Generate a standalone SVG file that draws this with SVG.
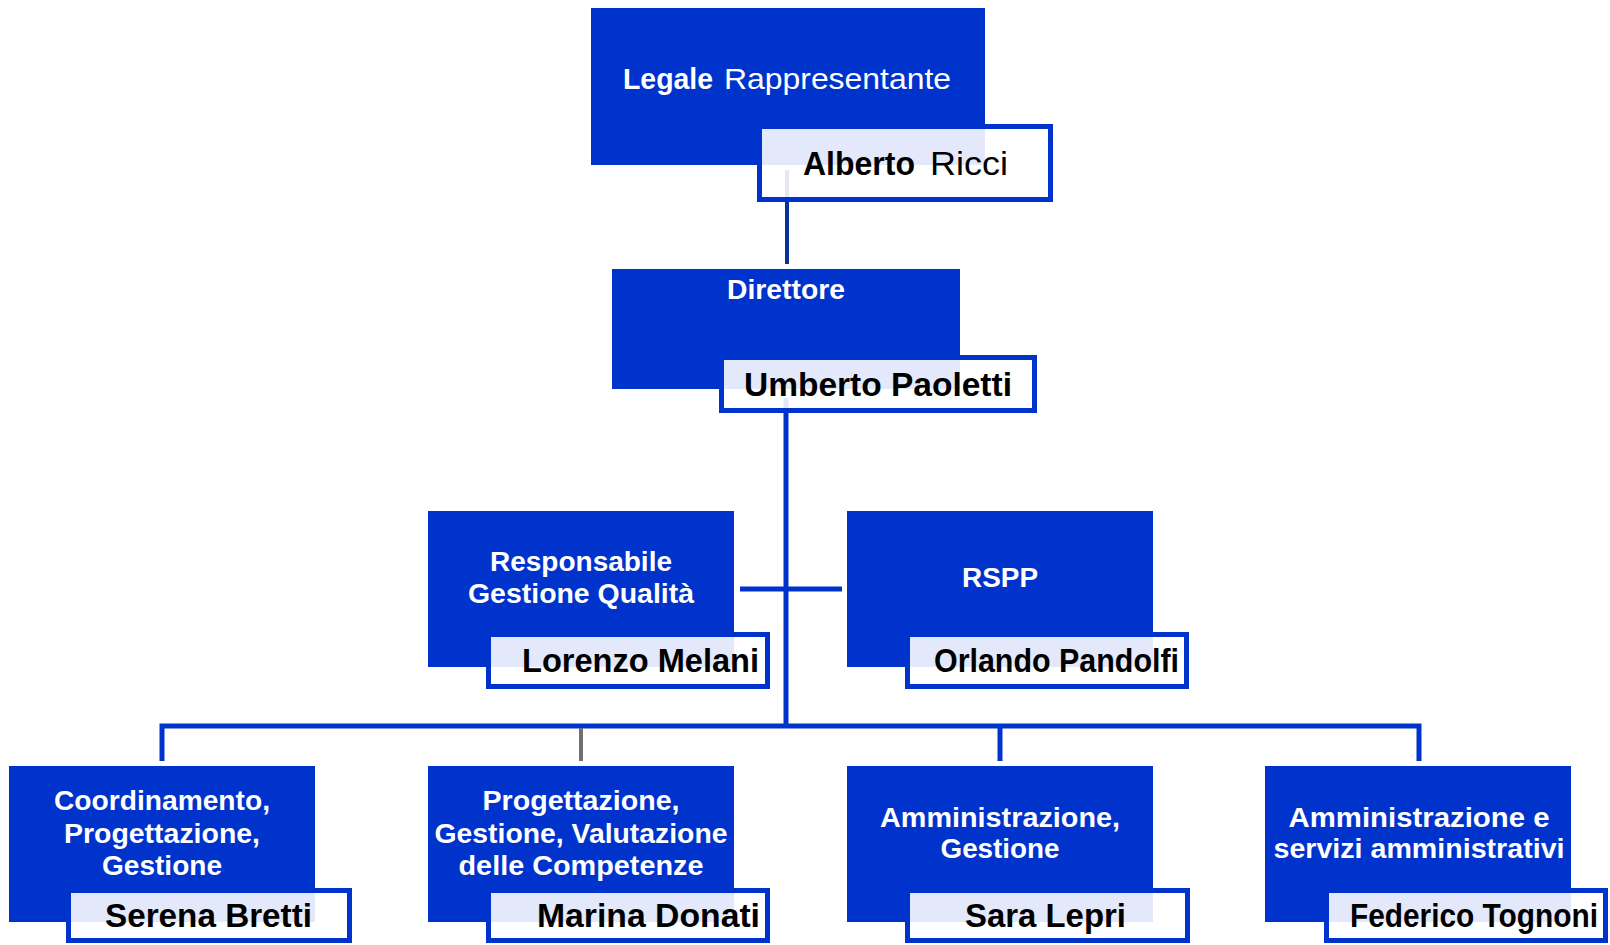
<svg xmlns="http://www.w3.org/2000/svg" width="1610" height="945" viewBox="0 0 1610 945">
<style>
.box{fill:#0033cc}
.nm{fill:#ffffff;fill-opacity:0.89;stroke:#0033cc;stroke-width:5}
.wt{font-family:"Liberation Sans",Arial,sans-serif;font-weight:bold;font-size:27px;fill:#ffffff;text-anchor:middle}
.bt{font-family:"Liberation Sans",Arial,sans-serif;font-weight:bold;font-size:34px;fill:#000000}
.rg{font-weight:normal}
.ln{fill:none;stroke:#0033cc;stroke-width:5}
</style>
<rect width="1610" height="945" fill="#ffffff"/>
<g id="connectors">
  <line x1="787" y1="170" x2="787" y2="264" stroke="#063494" stroke-width="4"/>
  <line class="ln" x1="786" y1="398" x2="786" y2="728"/>
  <line class="ln" x1="740" y1="589" x2="842" y2="589"/>
  <path class="ln" d="M162,761 V726 H1419 V761"/>
  <line class="ln" x1="1000" y1="726" x2="1000" y2="761"/>
  <line x1="581" y1="728" x2="581" y2="761" stroke="#707070" stroke-width="4"/>
</g>
<g id="legale">
  <rect class="box" x="591" y="8" width="394" height="157"/>
  <text class="wt" x="623" y="89" style="text-anchor:start;font-size:30px" textLength="90" lengthAdjust="spacingAndGlyphs">Legale</text>
  <text class="wt rg" x="724" y="89" style="text-anchor:start;font-size:30px" textLength="227" lengthAdjust="spacingAndGlyphs">Rappresentante</text>
  <rect class="nm" x="759.5" y="126.5" width="291" height="73"/>
  <text class="bt" x="803" y="175" textLength="112" lengthAdjust="spacingAndGlyphs">Alberto</text>
  <text class="bt rg" x="930" y="175" textLength="78" lengthAdjust="spacingAndGlyphs">Ricci</text>
</g>
<g id="direttore">
  <rect class="box" x="612" y="269" width="348" height="120"/>
  <text class="wt" x="786" y="299" textLength="118" lengthAdjust="spacingAndGlyphs">Direttore</text>
  <rect class="nm" x="721.5" y="357.5" width="313" height="53"/>
  <text class="bt" x="744" y="396" textLength="268" lengthAdjust="spacingAndGlyphs">Umberto Paoletti</text>
</g>
<g id="qualita">
  <rect class="box" x="428" y="511" width="306" height="156"/>
  <text class="wt" x="581" y="571" textLength="182" lengthAdjust="spacingAndGlyphs">Responsabile</text>
  <text class="wt" x="581" y="603" textLength="226" lengthAdjust="spacingAndGlyphs">Gestione Qualità</text>
  <rect class="nm" x="488.5" y="634.5" width="279" height="52"/>
  <text class="bt" x="522" y="672" textLength="237" lengthAdjust="spacingAndGlyphs">Lorenzo Melani</text>
</g>
<g id="rspp">
  <rect class="box" x="847" y="511" width="306" height="156"/>
  <text class="wt" x="1000" y="587" textLength="76" lengthAdjust="spacingAndGlyphs">RSPP</text>
  <rect class="nm" x="907.5" y="634.5" width="279" height="52"/>
  <text class="bt" x="934" y="672" textLength="245" lengthAdjust="spacingAndGlyphs">Orlando Pandolfi</text>
</g>
<g id="coordinamento">
  <rect class="box" x="9" y="766" width="306" height="156"/>
  <text class="wt" x="162" y="810" textLength="216" lengthAdjust="spacingAndGlyphs">Coordinamento,</text>
  <text class="wt" x="162" y="843" textLength="196" lengthAdjust="spacingAndGlyphs">Progettazione,</text>
  <text class="wt" x="162" y="875" textLength="120" lengthAdjust="spacingAndGlyphs">Gestione</text>
  <rect class="nm" x="68.5" y="890.5" width="281" height="50"/>
  <text class="bt" x="105" y="927" textLength="207" lengthAdjust="spacingAndGlyphs">Serena Bretti</text>
</g>
<g id="progettazione">
  <rect class="box" x="428" y="766" width="306" height="156"/>
  <text class="wt" x="581" y="810" textLength="197" lengthAdjust="spacingAndGlyphs">Progettazione,</text>
  <text class="wt" x="581" y="843" textLength="293" lengthAdjust="spacingAndGlyphs">Gestione, Valutazione</text>
  <text class="wt" x="581" y="875" textLength="245" lengthAdjust="spacingAndGlyphs">delle Competenze</text>
  <rect class="nm" x="488.5" y="890.5" width="279" height="50"/>
  <text class="bt" x="537" y="927" textLength="223" lengthAdjust="spacingAndGlyphs">Marina Donati</text>
</g>
<g id="amministrazione">
  <rect class="box" x="847" y="766" width="306" height="156"/>
  <text class="wt" x="1000" y="827" textLength="240" lengthAdjust="spacingAndGlyphs">Amministrazione,</text>
  <text class="wt" x="1000" y="858" textLength="119" lengthAdjust="spacingAndGlyphs">Gestione</text>
  <rect class="nm" x="907.5" y="890.5" width="280" height="50"/>
  <text class="bt" x="965" y="927" textLength="161" lengthAdjust="spacingAndGlyphs">Sara Lepri</text>
</g>
<g id="servizi">
  <rect class="box" x="1265" y="766" width="306" height="156"/>
  <text class="wt" x="1419" y="827" textLength="261" lengthAdjust="spacingAndGlyphs">Amministrazione e</text>
  <text class="wt" x="1419" y="858" textLength="291" lengthAdjust="spacingAndGlyphs">servizi amministrativi</text>
  <rect class="nm" x="1326.5" y="890.5" width="279" height="50"/>
  <text class="bt" x="1350" y="927" textLength="248" lengthAdjust="spacingAndGlyphs">Federico Tognoni</text>
</g>
</svg>
